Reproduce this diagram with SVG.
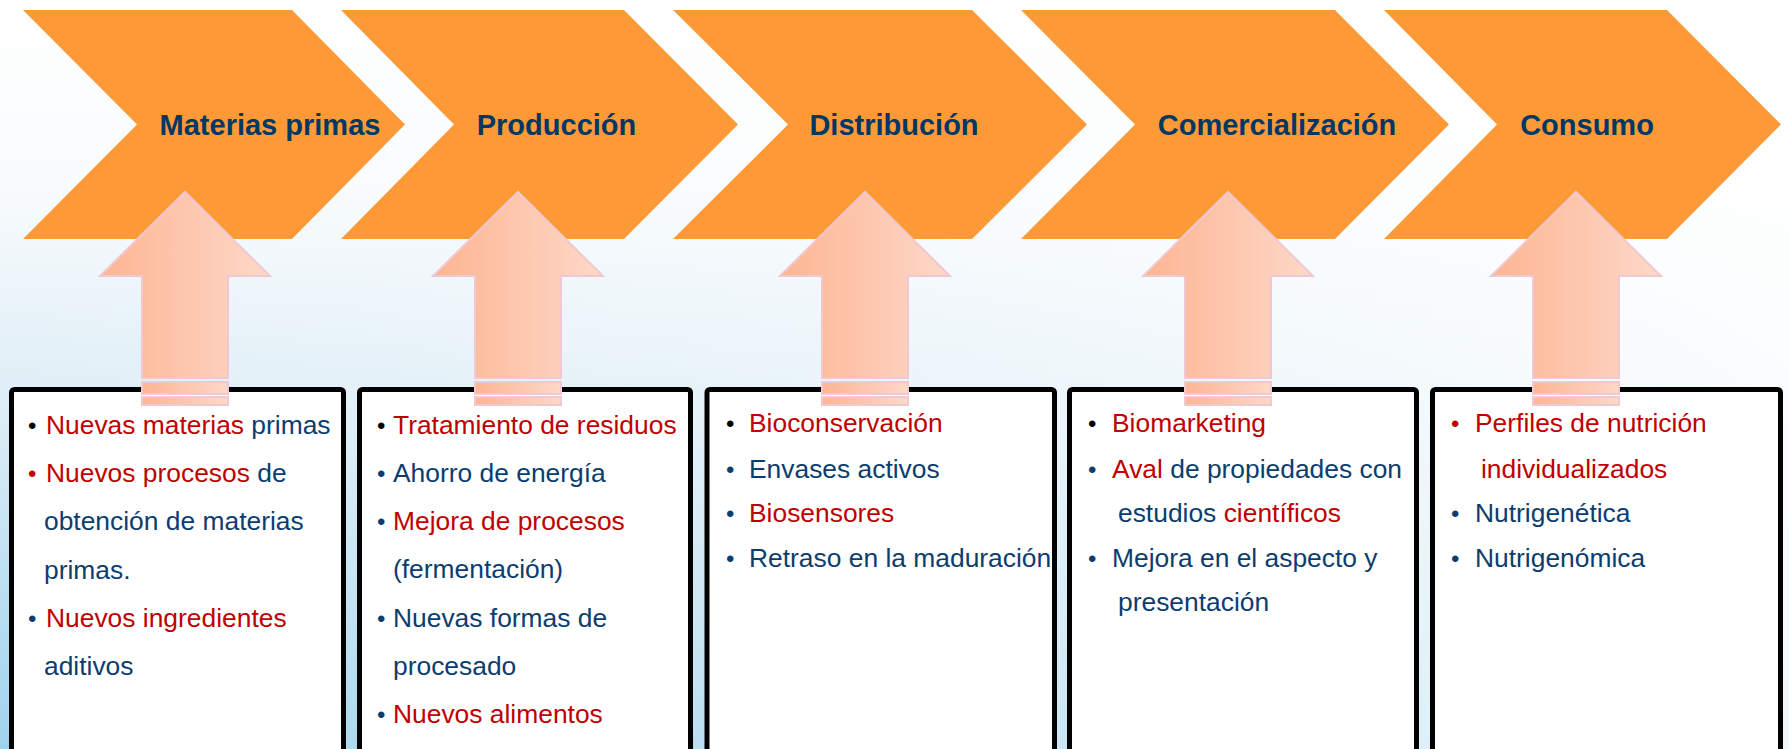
<svg xmlns="http://www.w3.org/2000/svg" width="1789" height="749" viewBox="0 0 1789 749">
<defs>
<linearGradient id="bgV" x1="0" y1="0" x2="0" y2="1">
<stop offset="0" stop-color="#ffffff"/>
<stop offset="0.25" stop-color="#f8fbfd"/>
<stop offset="0.55" stop-color="#dcedf6"/>
<stop offset="1" stop-color="#9fd3ec"/>
</linearGradient>
<linearGradient id="bgH" x1="0" y1="0" x2="1" y2="0">
<stop offset="0" stop-color="#ffffff" stop-opacity="0"/>
<stop offset="0.5" stop-color="#ffffff" stop-opacity="0.35"/>
<stop offset="1" stop-color="#ffffff" stop-opacity="0.85"/>
</linearGradient>
<linearGradient id="arr" x1="0" y1="0" x2="1" y2="0">
<stop offset="0" stop-color="#fdb592"/>
<stop offset="1" stop-color="#fdd8c8"/>
</linearGradient>
<g id="upArrow">
<path d="M0,192 L85,276 L43,276 L43,378 L-43,378 L-43,276 L-85,276 Z"/>
<rect x="-43" y="382" width="86" height="12"/>
<rect x="-43" y="397" width="86" height="8"/>
</g>
</defs>
<style>
.chev{fill:#fd9a37}
.head{font-family:"Liberation Sans",Arial,sans-serif;font-weight:bold;font-size:29px;fill:#003865;text-anchor:middle}
.box{fill:#ffffff;stroke:#000000;stroke-width:5}
.arrow{fill:url(#arr);stroke:#f1c8d2;stroke-width:2}
.t{font-family:"Liberation Sans",Arial,sans-serif;font-size:26.4px;fill:#0b3d6e}
.r{fill:#c00000}
.b{fill:#0b3d6e}
.k{fill:#000000}
.bul{font-family:"Liberation Sans",Arial,sans-serif;font-size:24px}
</style>
<rect x="0" y="0" width="1789" height="749" fill="url(#bgV)"/>
<rect x="0" y="0" width="1789" height="749" fill="url(#bgH)"/>

<g id="chevron-materias">
<polygon class="chev" points="23,10 292,10 405,124.5 292,239 23,239 137,124.5"/>
<text class="head" x="270" y="135">Materias primas</text>
</g>
<g id="chevron-produccion">
<polygon class="chev" points="341,10 624,10 738,124.5 624,239 341,239 454,124.5"/>
<text class="head" x="556.5" y="135">Producción</text>
</g>
<g id="chevron-distribucion">
<polygon class="chev" points="673,10 972,10 1087,124.5 972,239 673,239 788,124.5"/>
<text class="head" x="894" y="135">Distribución</text>
</g>
<g id="chevron-comercializacion">
<polygon class="chev" points="1021,10 1335,10 1449,124.5 1335,239 1021,239 1135,124.5"/>
<text class="head" x="1277" y="135">Comercialización</text>
</g>
<g id="chevron-consumo">
<polygon class="chev" points="1384,10 1667,10 1781,124.5 1667,239 1384,239 1497,124.5"/>
<text class="head" x="1587" y="135">Consumo</text>
</g>

<g id="box-materias">
<rect class="box" x="11.5" y="389.5" width="332" height="380" rx="3"/>
<text class="bul k" x="28" y="434">•</text>
<text class="t" x="46" y="434"><tspan class="r">Nuevas materias</tspan> primas</text>
<text class="bul r" x="28" y="482">•</text>
<text class="t" x="46" y="482"><tspan class="r">Nuevos procesos</tspan> de</text>
<text class="t" x="44" y="530">obtención de materias</text>
<text class="t" x="44" y="579">primas.</text>
<text class="bul b" x="28" y="627">•</text>
<text class="t" x="46" y="627"><tspan class="r">Nuevos ingredientes</tspan></text>
<text class="t" x="44" y="675">aditivos</text>
</g>
<g id="box-produccion">
<rect class="box" x="359.5" y="389.5" width="331" height="380" rx="3"/>
<text class="bul k" x="377" y="434">•</text>
<text class="t r" x="393" y="434">Tratamiento de residuos</text>
<text class="bul b" x="377" y="482">•</text>
<text class="t" x="393" y="482">Ahorro de energía</text>
<text class="bul b" x="377" y="530">•</text>
<text class="t r" x="393" y="530">Mejora de procesos</text>
<text class="t" x="393" y="578">(fermentación)</text>
<text class="bul b" x="377" y="627">•</text>
<text class="t" x="393" y="627">Nuevas formas de</text>
<text class="t" x="393" y="675">procesado</text>
<text class="bul b" x="377" y="723">•</text>
<text class="t r" x="393" y="723">Nuevos alimentos</text>
</g>
<g id="box-distribucion">
<rect class="box" x="707" y="389.5" width="347.5" height="380" rx="3"/>
<text class="bul k" x="726" y="432">•</text>
<text class="t r" x="749" y="432">Bioconservación</text>
<text class="bul b" x="726" y="478">•</text>
<text class="t" x="749" y="478">Envases activos</text>
<text class="bul b" x="726" y="522">•</text>
<text class="t r" x="749" y="522">Biosensores</text>
<text class="bul b" x="726" y="567">•</text>
<text class="t" x="749" y="567">Retraso en la maduración</text>
</g>
<g id="box-comercializacion">
<rect class="box" x="1069.5" y="389.5" width="347" height="380" rx="3"/>
<text class="bul k" x="1088" y="432">•</text>
<text class="t r" x="1112" y="432">Biomarketing</text>
<text class="bul b" x="1088" y="478">•</text>
<text class="t" x="1112" y="478"><tspan class="r">Aval</tspan> de propiedades con</text>
<text class="t" x="1118" y="522">estudios <tspan class="r">científicos</tspan></text>
<text class="bul b" x="1088" y="567">•</text>
<text class="t" x="1112" y="567">Mejora en el aspecto y</text>
<text class="t" x="1118" y="611">presentación</text>
</g>
<g id="box-consumo">
<rect class="box" x="1432.5" y="389.5" width="348" height="380" rx="3"/>
<text class="bul r" x="1451" y="432">•</text>
<text class="t r" x="1475" y="432">Perfiles de nutrición</text>
<text class="t r" x="1481" y="478">individualizados</text>
<text class="bul b" x="1451" y="522">•</text>
<text class="t" x="1475" y="522">Nutrigenética</text>
<text class="bul b" x="1451" y="567">•</text>
<text class="t" x="1475" y="567">Nutrigenómica</text>
</g>

<g id="connectors">
<use href="#upArrow" class="arrow" transform="translate(185,0)"/>
<use href="#upArrow" class="arrow" transform="translate(518,0)"/>
<use href="#upArrow" class="arrow" transform="translate(865,0)"/>
<use href="#upArrow" class="arrow" transform="translate(1228,0)"/>
<use href="#upArrow" class="arrow" transform="translate(1576,0)"/>
</g>
</svg>
